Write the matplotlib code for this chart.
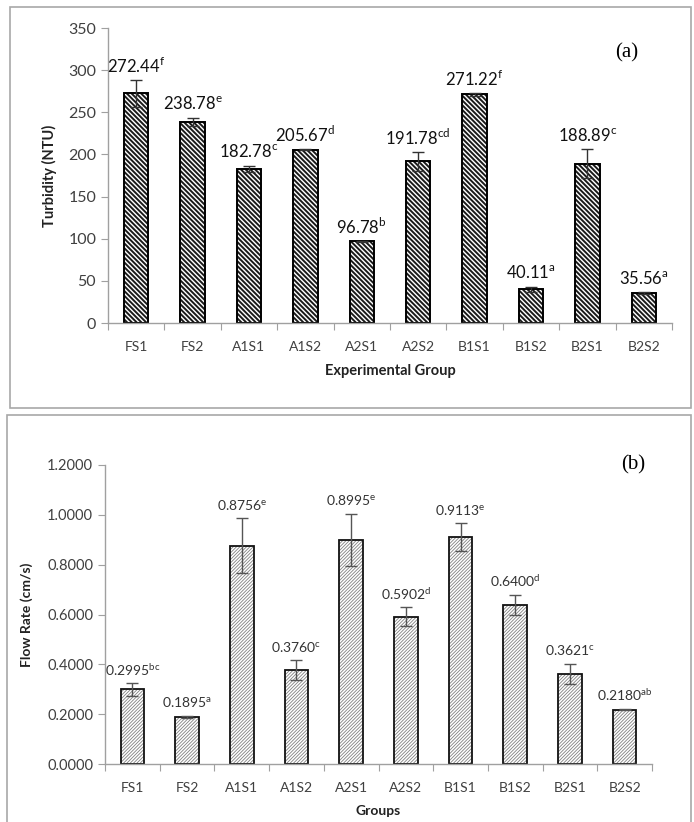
import matplotlib
matplotlib.use("Agg")
import matplotlib.pyplot as plt
from matplotlib.patches import Rectangle
import numpy as np

plt.rcParams['font.family'] = ['Lato', 'DejaVu Sans']
plt.rcParams['mathtext.fontset'] = 'custom'
plt.rcParams['mathtext.rm'] = 'Lato'

# ======== DATA ========
groups = ["FS1", "FS2", "A1S1", "A1S2", "A2S1", "A2S2", "B1S1", "B1S2", "B2S1", "B2S2"]

turbidity = [272.44, 238.78, 182.78, 205.67, 96.78, 191.78, 271.22, 40.11, 188.89, 35.56]
turbidity_err = [16, 5, 4, 0.8, 0.8, 11, 1.5, 3, 17, 1]
turbidity_sig = ["f", "e", "c", "d", "b", "cd", "f", "a", "c", "a"]

flow = [0.2995, 0.1895, 0.8756, 0.3760, 0.8995, 0.5902, 0.9113, 0.6400, 0.3621, 0.2180]
flow_err = [0.025, 0.004, 0.11, 0.04, 0.105, 0.038, 0.055, 0.04, 0.04, 0.003]
flow_sig = ["bc", "a", "e", "c", "e", "d", "e", "d", "c", "ab"]

W, H = 694, 822
fig = plt.figure(figsize=(W / 100, H / 100), dpi=100)

# panel frames (pixel coords -> figure coords)
def frame(x0, y0, x1, y1):
    fig.patches.append(Rectangle((x0 / W, 1 - y1 / H), (x1 - x0) / W, (y1 - y0) / H,
                                 transform=fig.transFigure, fill=False,
                                 edgecolor="#a8a8a8", linewidth=1.2))

frame(10, 7, 691, 408)
frame(7, 415, 691, 830)


def style_axes(ax, n):
    for s in ["top", "right"]:
        ax.spines[s].set_visible(False)
    for s in ["left", "bottom"]:
        ax.spines[s].set_color("#a0a0a0")
        ax.spines[s].set_linewidth(1.0)
    ax.set_xlim(-0.5, n - 0.5)
    # excel style: tick marks between categories, labels at centres
    ax.set_xticks(np.arange(n + 1) - 0.5)
    ax.set_xticklabels([])
    ax.set_xticks(np.arange(n), minor=True)
    ax.set_xticklabels(groups, minor=True)
    ax.tick_params(axis="x", which="major", direction="out", length=5, color="#a0a0a0")
    ax.tick_params(axis="x", which="minor", length=0, pad=13, labelcolor="#404040")
    ax.tick_params(axis="y", direction="out", length=5, color="#a0a0a0", labelcolor="#404040")


x = np.arange(len(groups))

# ======== TOP PANEL: TURBIDITY ========
ax1 = fig.add_axes([108 / W, 1 - 323 / H, 564 / W, 295 / H])
plt.rcParams['hatch.linewidth'] = 1.4
ax1.bar(x, turbidity, width=0.43, color="white", edgecolor="#1a1a1a", linewidth=0,
        hatch="\\" * 7)
ax1.bar(x, turbidity, width=0.43, fill=False, edgecolor="black", linewidth=1.4)
ax1.errorbar(x, turbidity, yerr=turbidity_err, fmt="none", ecolor="#333333",
             elinewidth=1.0, capsize=4, capthick=1.0)
ax1.set_ylim(0, 350)
ax1.set_yticks(np.arange(0, 351, 50))
style_axes(ax1, len(groups))
ax1.tick_params(labelsize=11.5)
ax1.set_ylabel("Turbidity (NTU)", fontsize=10.5, fontweight="bold", color="#222222", labelpad=8)
ax1.set_xlabel("Experimental Group", fontsize=10.5, fontweight="bold", color="#222222", labelpad=8)
for xi, v, e, s in zip(x, turbidity, turbidity_err, turbidity_sig):
    ax1.annotate(f"{v:.2f}" + r"$^{\mathregular{" + s + "}}$", (xi, v + e),
                 xytext=(0, 3), textcoords="offset points", ha="center", va="bottom",
                 fontsize=12, color="#111111")
fig.text(627 / W, 1 - 53 / H, "(a)", family="Liberation Serif", fontsize=15,
         ha="center", va="center")

# ======== BOTTOM PANEL: FLOW RATE ========
ax2 = fig.add_axes([105 / W, 1 - 764 / H, 547 / W, 299 / H])
plt.rcParams['hatch.linewidth'] = 0.6
ax2.bar(x, flow, width=0.43, color="white", edgecolor="#808080", linewidth=0,
        hatch="/" * 10)
ax2.bar(x, flow, width=0.43, fill=False, edgecolor="#111111", linewidth=1.3)
ax2.errorbar(x, flow, yerr=flow_err, fmt="none", ecolor="#555555",
             elinewidth=1.0, capsize=4, capthick=1.0)
ax2.set_ylim(0, 1.2)
ax2.set_yticks(np.arange(0, 1.21, 0.2))
ax2.set_yticklabels([f"{t:.4f}" for t in np.arange(0, 1.21, 0.2)])
style_axes(ax2, len(groups))
ax2.tick_params(labelsize=10.5)
ax2.set_ylabel("Flow Rate (cm/s)", fontsize=10, fontweight="bold", color="#222222", labelpad=10)
ax2.set_xlabel("Groups", fontsize=10, fontweight="bold", color="#222222", labelpad=8)
for xi, v, e, s in zip(x, flow, flow_err, flow_sig):
    ax2.annotate(f"{v:.4f}" + r"$^{\mathregular{" + s + "}}$", (xi, v + e),
                 xytext=(0, 4), textcoords="offset points", ha="center", va="bottom",
                 fontsize=10, color="#333333")
fig.text(633 / W, 1 - 465 / H, "(b)", family="Liberation Serif", fontsize=15,
         ha="center", va="center")

plt.savefig("out.png", dpi=100)
